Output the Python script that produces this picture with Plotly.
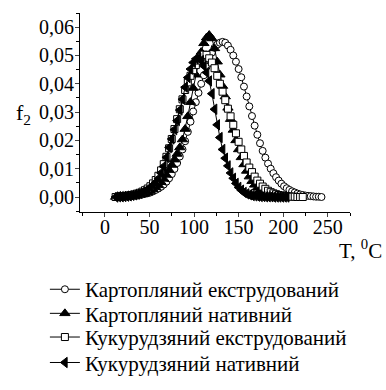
import plotly.graph_objects as go

T_START = 12
T_STEP = 3

names = ["Картопляний екструдований", "Картопляний нативний",
         "Кукурудзяний екструдований", "Кукурудзяний нативний"]

potato_extruded = [
    0.0000, 0.0000, 0.0001, 0.0001, 0.0002, 0.0002, 0.0003, 0.0004, 0.0005, 0.0007,
    0.0009, 0.0011, 0.0013, 0.0016, 0.0020, 0.0025, 0.0030, 0.0036, 0.0044, 0.0054,
    0.0066, 0.0081, 0.0099, 0.0120, 0.0143, 0.0168, 0.0197, 0.0230, 0.0266, 0.0302,
    0.0335, 0.0368, 0.0400, 0.0430, 0.0460, 0.0488, 0.0510, 0.0527, 0.0538, 0.0545,
    0.0548, 0.0545, 0.0535, 0.0520, 0.0500, 0.0478, 0.0452, 0.0423, 0.0390, 0.0355,
    0.0320, 0.0286, 0.0252, 0.0220, 0.0190, 0.0163, 0.0139, 0.0118, 0.0100, 0.0084,
    0.0070, 0.0058, 0.0047, 0.0038, 0.0031, 0.0025, 0.0020, 0.0016, 0.0012, 0.0009,
    0.0007, 0.0005, 0.0004, 0.0003, 0.0002, 0.0001, 0.0001, 0.0000]

potato_native = [
    0.0000, 0.0000, 0.0001, 0.0001, 0.0002, 0.0003, 0.0004, 0.0005, 0.0006, 0.0008,
    0.0010, 0.0013, 0.0017, 0.0021, 0.0027, 0.0034, 0.0042, 0.0052, 0.0064, 0.0078,
    0.0095, 0.0113, 0.0132, 0.0152, 0.0175, 0.0203, 0.0240, 0.0285, 0.0335, 0.0385,
    0.0432, 0.0475, 0.0512, 0.0543, 0.0563, 0.0572, 0.0560, 0.0525, 0.0478, 0.0432,
    0.0392, 0.0355, 0.0315, 0.0275, 0.0237, 0.0200, 0.0168, 0.0140, 0.0115, 0.0092,
    0.0072, 0.0056, 0.0043, 0.0033, 0.0025, 0.0019, 0.0014, 0.0010, 0.0007, 0.0005,
    0.0003, 0.0002, 0.0001, 0.0001, 0.0000]

corn_extruded = [
    0.0000, 0.0001, 0.0002, 0.0003, 0.0004, 0.0005, 0.0007, 0.0009, 0.0012, 0.0015,
    0.0019, 0.0024, 0.0030, 0.0038, 0.0048, 0.0060, 0.0075, 0.0094, 0.0116, 0.0142,
    0.0172, 0.0205, 0.0240, 0.0275, 0.0310, 0.0345, 0.0378, 0.0405, 0.0428, 0.0448,
    0.0466, 0.0482, 0.0495, 0.0503, 0.0502, 0.0490, 0.0475, 0.0455, 0.0428, 0.0400,
    0.0372, 0.0342, 0.0312, 0.0285, 0.0255, 0.0225, 0.0195, 0.0168, 0.0145, 0.0122,
    0.0104, 0.0088, 0.0072, 0.0058, 0.0047, 0.0037, 0.0029, 0.0022, 0.0017, 0.0013,
    0.0010, 0.0007, 0.0005, 0.0004, 0.0003, 0.0002, 0.0001, 0.0001, 0.0000, 0.0000,
    0.0000]

corn_native = [
    0.0000, 0.0001, 0.0001, 0.0002, 0.0003, 0.0004, 0.0006, 0.0008, 0.0010, 0.0013,
    0.0017, 0.0021, 0.0027, 0.0034, 0.0042, 0.0052, 0.0065, 0.0085, 0.0108, 0.0140,
    0.0175, 0.0205, 0.0238, 0.0270, 0.0307, 0.0345, 0.0388, 0.0422, 0.0452, 0.0475,
    0.0488, 0.0490, 0.0482, 0.0463, 0.0440, 0.0410, 0.0365, 0.0310, 0.0255, 0.0210,
    0.0168, 0.0137, 0.0110, 0.0085, 0.0066, 0.0048, 0.0034, 0.0024, 0.0016, 0.0011,
    0.0008, 0.0005, 0.0004, 0.0003, 0.0002, 0.0002, 0.0001, 0.0001, 0.0001, 0.0000,
    0.0000, 0.0000, 0.0000, 0.0000, 0.0000]

y_ticks = [0.00, 0.01, 0.02, 0.03, 0.04, 0.05, 0.06]
x_ticks = [0, 50, 100, 150, 200, 250]

series = [potato_extruded, potato_native, corn_extruded, corn_native]
symbols = ["circle", "triangle-up", "square", "triangle-left"]
fills = ["white", "black", "white", "black"]
sizes = [7, 9, 7, 9]
legend_ids = ["legend", "legend2", "legend3", "legend4"]
legend_y = [-0.287, -0.408, -0.527, -0.655]

FONT = "Liberation Serif, Times New Roman, serif"
fig = go.Figure()
for nm, vals, sym, fc, sz, lg in zip(names, series, symbols, fills, sizes, legend_ids):
    xs = [T_START + T_STEP * i for i in range(len(vals))]
    fig.add_trace(go.Scatter(
        x=xs, y=vals, name=nm, mode="lines+markers", legend=lg,
        line=dict(color="black", width=1),
        marker=dict(symbol=sym, size=sz, color=fc,
                    line=dict(color="black", width=1)),
    ))

legends = {}
for lg, ly in zip(legend_ids, legend_y):
    legends[lg] = dict(x=-0.13, y=ly, xanchor="left", yanchor="top",
                       font=dict(family=FONT, size=21, color="black"),
                       itemwidth=30, bgcolor="rgba(0,0,0,0)")

fig.update_layout(
    width=386, height=390,
    margin=dict(l=80, r=36, t=13, b=178, autoexpand=False),
    paper_bgcolor="white", plot_bgcolor="white",
    font=dict(family=FONT, size=20, color="black"),
    separators=",.",
    showlegend=True,
    xaxis=dict(range=[-28, 275], tickvals=x_ticks, ticks="outside", ticklen=4,
               showline=True, linecolor="black", linewidth=1, showgrid=False,
               zeroline=False, ticklabelstandoff=-7,
               tickfont=dict(family=FONT, size=20, color="black"),
               minor=dict(dtick=25, tick0=0, ticks="outside", ticklen=3,
                          tickcolor="black", showgrid=False)),
    yaxis=dict(range=[-0.0053, 0.065], tickvals=y_ticks, tickformat=".2f",
               ticks="outside", ticklen=4, showline=True, linecolor="black",
               linewidth=1, showgrid=False, zeroline=False, ticklabelstandoff=-3,
               tickfont=dict(family=FONT, size=20, color="black"),
               minor=dict(dtick=0.005, tick0=0, ticks="outside", ticklen=3,
                          tickcolor="black", showgrid=False)),
    annotations=[
        dict(text="f<sub>2</sub>", xref="paper", yref="paper", x=-0.21, y=0.49,
             showarrow=False, xanchor="center", yanchor="middle",
             font=dict(family=FONT, size=22, color="black")),
        dict(text="T, <sup>0</sup>C", xref="paper", yref="paper", x=1.125, y=-0.186,
             showarrow=False, xanchor="right", yanchor="middle",
             font=dict(family=FONT, size=21, color="black")),
    ],
    **legends,
)

fig.write_html("out.html", config={"displayModeBar": False},
               post_script="document.body.style.margin='0';")
